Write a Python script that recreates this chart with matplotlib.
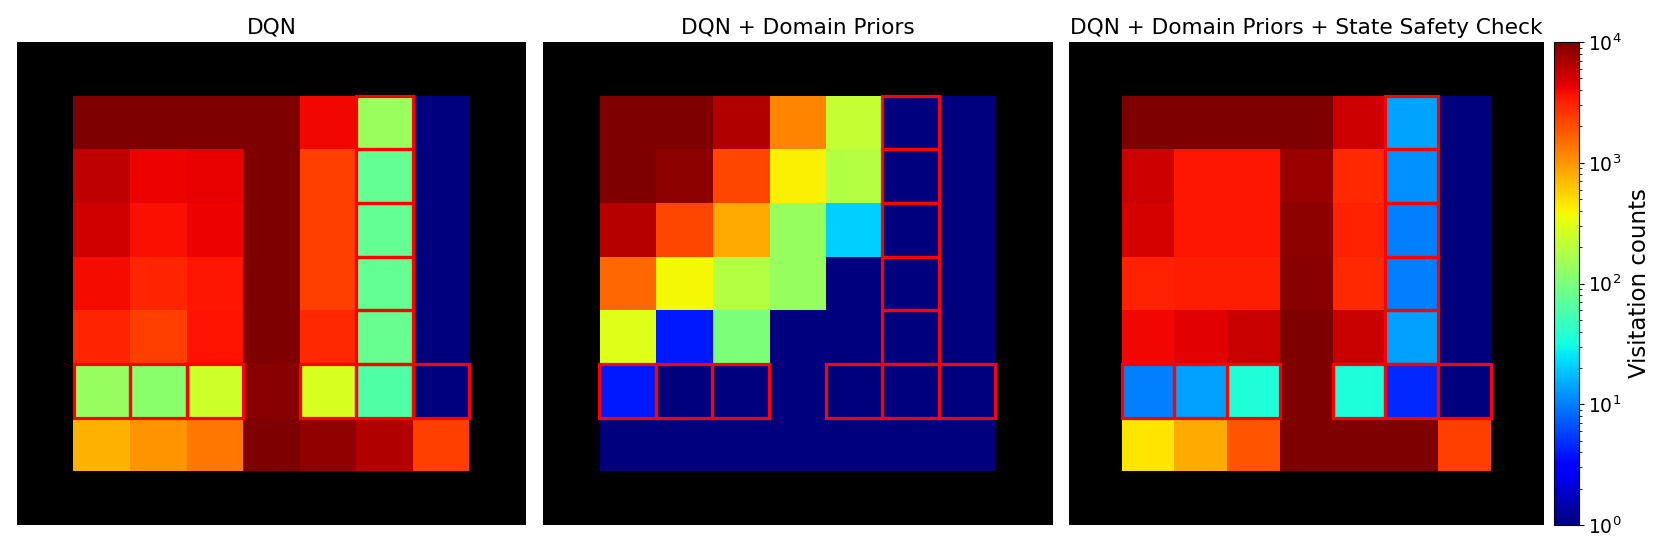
import numpy as np
import matplotlib
matplotlib.use("Agg")
import matplotlib.pyplot as plt
from matplotlib.colors import LogNorm
from matplotlib.patches import Rectangle

titles = ["DQN", "DQN + Domain Priors", "DQN + Domain Priors + State Safety Check"]

# Visitation counts on the 7x7 inner grid (top row first)
dqn = [
    [12000, 12000, 12000, 12000, 3980, 139, 1],
    [6000, 4100, 4370, 10000, 2340, 77, 1],
    [5100, 3700, 4200, 10000, 2300, 77, 1],
    [3900, 2960, 3470, 10000, 2300, 77, 1],
    [2960, 2340, 3600, 10000, 2900, 80, 1],
    [134, 116, 250, 9100, 277, 61, 1],
    [765, 1000, 1360, 11000, 8400, 6700, 2340],
]
dqn_priors = [
    [11000, 11000, 6500, 1170, 223, 1, 1],
    [10000, 8800, 2170, 420, 190, 1, 1],
    [6300, 2170, 830, 134, 21, 1, 1],
    [1580, 390, 190, 134, 1, 1, 1],
    [295, 4, 102, 1, 1, 1, 1],
    [4, 1, 1, 1, 1, 1, 1],
    [1, 1, 1, 1, 1, 1, 1],
]
dqn_priors_safety = [
    [11000, 11000, 11000, 11000, 5400, 14, 1],
    [5400, 3400, 3400, 7900, 2840, 11.7, 1],
    [4900, 3400, 3400, 8800, 3100, 10.2, 1],
    [3100, 3200, 3200, 9200, 2840, 10, 1],
    [4000, 4400, 5600, 10000, 5600, 13.5, 1],
    [10, 13.5, 36, 10000, 34, 4.6, 1],
    [465, 830, 1900, 10000, 10000, 10000, 2300],
]
datasets = [dqn, dqn_priors, dqn_priors_safety]

# Unsafe cells (row, col) in the inner grid, outlined in red
unsafe_rows = [0, 1, 2, 3, 4, 5, 5, 5, 5, 5, 5]
unsafe_cols = [5, 5, 5, 5, 5, 0, 1, 2, 4, 5, 6]

W, H = 1661, 554
fig = plt.figure(figsize=(W / 100, H / 100), dpi=100)

bottom = (H - 525) / H
height = 483 / H
lefts = [17 / W, 542.7 / W, 1069 / W]
widths = [509 / W, 509.3 / W, 474.7 / W]

cmap = plt.get_cmap("jet").copy()
cmap.set_bad("black")
norm = LogNorm(vmin=1, vmax=1e4)

im = None
for k in range(3):
    ax = fig.add_axes([lefts[k], bottom, widths[k], height])
    inner = np.array(datasets[k], dtype=float)
    grid = np.pad(inner, 1, constant_values=np.nan)
    grid = np.ma.masked_invalid(grid)
    im = ax.imshow(grid, cmap=cmap, norm=norm, aspect="auto", interpolation="nearest")
    for r, c in zip(unsafe_rows, unsafe_cols):
        ax.add_patch(Rectangle((c + 1 - 0.5, r + 1 - 0.5), 1, 1, fill=False,
                               edgecolor="red", linewidth=2.3, zorder=3))
    ax.set_xticks([])
    ax.set_yticks([])
    for s in ax.spines.values():
        s.set_visible(False)
    ax.set_title(titles[k], fontsize=15.6, pad=6)

cax = fig.add_axes([1554.3 / W, bottom, 24.4 / W, height])
cb = fig.colorbar(im, cax=cax)
cb.set_label("Visitation counts", fontsize=16.5)
cb.ax.tick_params(labelsize=13.5)

fig.savefig("out.png", dpi=100)
